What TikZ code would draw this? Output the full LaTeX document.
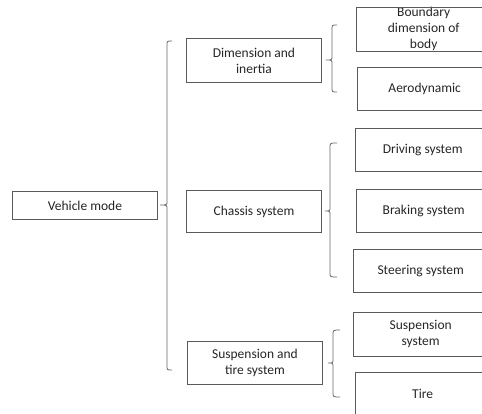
\documentclass[tikz,border=0pt]{standalone}
\usepackage{fontspec}
\setmainfont{Carlito}
\definecolor{boxgray}{HTML}{5A5A5A}
\definecolor{txtgray}{HTML}{262626}
\definecolor{brcgray}{HTML}{6A6A6A}
\newcommand{\bracepath}[6]{% spine x, end x, tip x, top y, mid y, bottom y
  \draw[brc] (#2,#4) .. controls (#1,#4) .. (#1,#4+5) -- (#1,#5-4)
    .. controls (#1,#5) .. (#3,#5) .. controls (#1,#5) .. (#1,#5+4)
    -- (#1,#6-5) .. controls (#1,#6) .. (#2,#6);}
\begin{document}
\begin{tikzpicture}[x=1pt,y=-1pt,
  txt/.style={inner sep=0pt, minimum width=135pt,
    align=center, font=\fontsize{13.5}{16}\selectfont, text=txtgray, anchor=north west},
  box/.style={txt, draw=boxgray, line width=0.9pt},
  boxline/.style={draw=boxgray, line width=0.9pt},
  brc/.style={draw=brcgray, line width=0.8pt}]
\useasboundingbox (0,0) rectangle (482,413);
\clip (0,0) rectangle (482,413);
\fill[white] (0,0) rectangle (482,413);
% left
\node[box, minimum width=145pt, minimum height=28pt] (veh) at (12,191) {Vehicle mode};
% middle
\node[box, minimum height=44pt] (dim) at (186,38) {Dimension and\\inertia};
\node[box, minimum height=42pt] (cha) at (186,190) {Chassis system};
\node[box, minimum height=43pt] (sus) at (187,341) {Suspension and\\tire system};
% right (cut off by the right edge)
\node[txt, minimum height=44pt] (bnd) at (356,7) {Boundary\\dimension of\\body};
\node[txt, minimum height=43pt] (aer) at (357,67) {Aerodynamic};
\node[txt, minimum height=43pt] (drv) at (355,128) {Driving system};
\node[txt, minimum height=43pt] (brk) at (356,189) {Braking system};
\node[txt, minimum height=43pt] (str) at (353,249) {Steering system};
\node[txt, minimum height=44pt] (sss) at (353,312) {Suspension\\system};
\node[txt, minimum height=43pt] (tir) at (355,372) {Tire};
\foreach \n in {bnd,aer,drv,brk,str,sss,tir}
  \draw[boxline] (\n.north west) rectangle ([xshift=40pt]\n.south east);
% braces
\bracepath{167}{172}{160}{41}{205}{370}
\bracepath{332}{337}{326}{25}{60}{92}
\bracepath{330}{337}{325}{143}{211}{277}
\bracepath{333}{340}{328}{330}{363}{397}
\end{tikzpicture}
\end{document}
